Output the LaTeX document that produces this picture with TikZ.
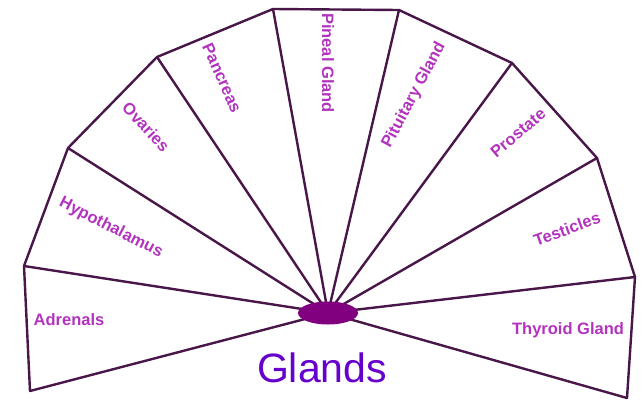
\documentclass[tikz,border=0pt]{standalone}
\usepackage{fontspec}
\setmainfont{Liberation Sans}
\usetikzlibrary{shapes.geometric}
\definecolor{linec}{RGB}{72,22,72}
\definecolor{hubc}{RGB}{128,0,128}
\definecolor{labc}{RGB}{178,52,190}
\definecolor{titlec}{RGB}{102,0,204}
\tikzset{
  edge/.style={draw=linec,line width=2.4pt,line join=round,line cap=round},
  lab/.style={text=labc,font=\fontsize{16.5}{16.5}\selectfont\bfseries,inner sep=0pt},
}
\begin{document}
\begin{tikzpicture}[x=1pt,y=-1pt]
\useasboundingbox (0,0) rectangle (643,402);
\fill[white] (0,0) rectangle (643,402);
\coordinate (o) at (328,313);
\coordinate (v0) at (30,391);
\coordinate (v1) at (24,266);
\coordinate (v2) at (68,148);
\coordinate (v3) at (157,57);
\coordinate (v4) at (273,9);
\coordinate (v5) at (399,10);
\coordinate (v6) at (512,63);
\coordinate (v7) at (597,158);
\coordinate (v8) at (635,277);
\coordinate (v9) at (627,398);
\draw[edge] (v0) -- (v1) -- (v2) -- (v3) -- (v4) -- (v5) -- (v6) -- (v7) -- (v8) -- (v9);
\foreach \i in {0,...,9} { \draw[edge] (v\i) -- (o); }
\node[ellipse,fill=hubc,minimum width=60pt,minimum height=23pt,inner sep=0pt] (c) at (o) {};
\node[lab] (adr) at (69,320) {Adrenals};
\node[lab,rotate=-27] (hyp) at (111,228) {Hypothalamus};
\node[lab,rotate=-47] (ova) at (146,127) {Ovaries};
\node[lab,rotate=-66] (pan) at (222,78) {Pancreas};
\node[lab,rotate=-90] (pin) at (328,63) {Pineal Gland};
\node[lab,rotate=62] (pit) at (414,95) {Pituitary Gland};
\node[lab,rotate=40] (pro) at (518,133) {Prostate};
\node[lab,rotate=20] (tes) at (567,229) {Testicles};
\node[lab] (thy) at (568,330) {Thyroid Gland};
\node[text=titlec,font=\fontsize{41}{41}\selectfont,inner sep=0pt,anchor=base] (gl) at (322,382) {Glands};
\end{tikzpicture}
\end{document}
